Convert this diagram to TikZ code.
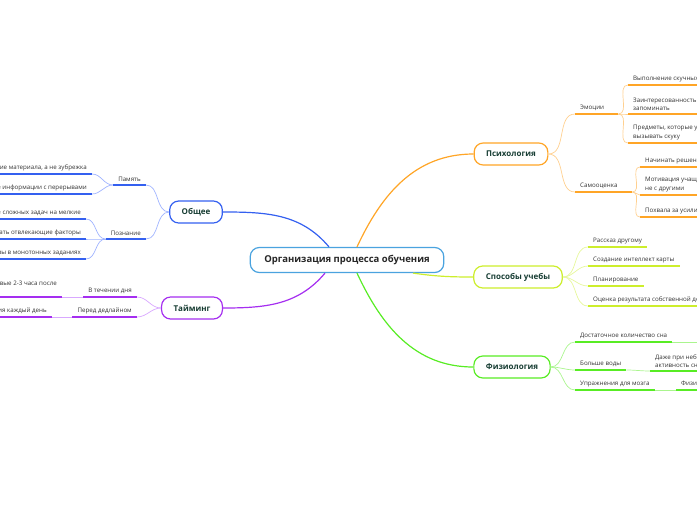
\documentclass[tikz,border=0pt]{standalone}
\usepackage{fontspec}
\setmainfont{Open Sans}
\definecolor{rootline}{HTML}{4AA3DF}
\definecolor{gencol}{HTML}{3460F0}
\definecolor{genlight}{HTML}{9FB3FF}
\definecolor{timcol}{HTML}{A52EF0}
\definecolor{timlight}{HTML}{D9A8FF}
\definecolor{psycol}{HTML}{FFA526}
\definecolor{psylight}{HTML}{FFD08F}
\definecolor{waycol}{HTML}{CDEE2C}
\definecolor{waylight}{HTML}{E6F79B}
\definecolor{phycol}{HTML}{58EC24}
\definecolor{phylight}{HTML}{AAF58E}
\definecolor{topictext}{HTML}{173D33}
\definecolor{leaftext}{HTML}{333333}
\tikzset{
  topic/.style={draw, fill=white, rounded corners=9pt, line width=1.2pt,
                minimum height=22pt, inner xsep=12pt, text=topictext,
                font=\bfseries\fontsize{8}{9}\selectfont},
  roottopic/.style={topic, draw=rootline, minimum height=25pt, inner xsep=14pt,
                text=black!85, font=\bfseries\fontsize{9.5}{11}\selectfont},
  leaf/.style={inner xsep=5pt, inner ysep=3pt, align=left, text=leaftext,
               font=\fontsize{6.2}{8.5}\selectfont},
  leafL/.style={leaf, anchor=south east},
  leafR/.style={leaf, anchor=south west},
  trunk/.style={line width=1.2pt},
  twig/.style={line width=0.7pt},
  uline/.style={line width=1.6pt},
}
\begin{document}
\begin{tikzpicture}[x=1pt, y=-1pt]
\useasboundingbox (0,0) rectangle (697,520);
\clip (0,0) rectangle (697,520);

% main topics
\node[roottopic] (root) at (347,260) {Организация процесса обучения};
\node[topic, draw=gencol] (gen) at (196,212) {Общее};
\node[topic, draw=timcol] (tim) at (192,308) {Тайминг};
\node[topic, draw=psycol] (psy) at (511,154) {Психология};
\node[topic, draw=waycol] (way) at (518,277) {Способы учебы};
\node[topic, draw=phycol] (phy) at (512,367) {Физиология};

\draw[trunk, gencol] ([xshift=-18pt]root.north) to[out=130, in=0] (gen.east);
\draw[trunk, timcol] ([xshift=-22pt]root.south) to[out=-130, in=0] (tim.east);
\draw[trunk, psycol] ([xshift=10pt]root.north) to[out=65, in=180] (psy.west);
\draw[trunk, waycol] ([xshift=66pt]root.south) to[out=-8, in=180] (way.west);
\draw[trunk, phycol] ([xshift=10pt]root.south) to[out=-65, in=180] (phy.west);

% Общее
\node[leafL] (mem) at (146,185) {Память};
\node[leafL, text width=30pt] (cog) at (146,239) {Познание};
\node[leafL] (mem1) at (92,174) {Понимание материала, а не зубрежка};
\node[leafL] (mem2) at (92,194) {Повторение информации с перерывами};
\node[leafL] (cog1) at (86,219) {Разделение сложных задач на мелкие};
\node[leafL] (cog2) at (86,239) {Исключать отвлекающие факторы};
\node[leafL] (cog3) at (86,259) {Перерывы в монотонных заданиях};
\foreach \a in {mem, cog}
  \draw[twig, genlight] (gen.west) to[out=180, in=0] (\a.south east);
\foreach \a/\b in {mem/mem1, mem/mem2, cog/cog1, cog/cog2, cog/cog3}
  \draw[twig, genlight] (\a.south west) to[out=180, in=0] (\b.south east);
\foreach \a in {mem, cog, mem1, mem2, cog1, cog2, cog3}
  \draw[uline, gencol] (\a.south east) -- (\a.south west);

% Тайминг
\node[leafL] (day) at (137,297) {В течении дня};
\node[leafL] (dead) at (137,317) {Перед дедлайном};
\node[leafL] (day1) at (62,297) {Первые 2-3 часа после\\сна};
\node[leafL] (dead1) at (52,317) {Занятия каждый день};
\foreach \a in {day, dead}
  \draw[twig, timlight] (tim.west) to[out=180, in=0] (\a.south east);
\foreach \a/\b in {day/day1, dead/dead1}
  \draw[twig, timlight] (\a.south west) -- (\b.south east);
\foreach \a in {day, dead, day1, dead1}
  \draw[uline, timcol] (\a.south east) -- (\a.south west);

% Психология
\node[leafR, text width=33pt] (emo) at (575,114) {Эмоции};
\node[leafR, text width=47pt] (self) at (575,192) {Самооценка};
\node[leafR] (emo1) at (628,85) {Выполнение скучных заданий};
\node[leafR] (emo2) at (628,114) {Заинтересованность помогает\\запоминать};
\node[leafR] (emo3) at (628,143) {Предметы, которые увлекают, не должны\\вызывать скуку};
\node[leafR] (self1) at (640,167) {Начинать решение с простых задач};
\node[leafR] (self2) at (640,195) {Мотивация учащегося сравнением\\не с другими};
\node[leafR] (self3) at (640,217) {Похвала за усилия};
\foreach \a in {emo, self}
  \draw[twig, psylight] (psy.east) to[out=0, in=180] (\a.south west);
\foreach \a/\b in {emo/emo1, emo/emo2, emo/emo3, self/self1, self/self2, self/self3}
  \draw[twig, psylight] (\a.south east) to[out=0, in=180] (\b.south west);
\foreach \a in {emo, self, emo1, emo2, emo3, self1, self2, self3}
  \draw[uline, psycol] (\a.south west) -- (\a.south east);

% Способы учебы
\node[leafR] (tell) at (588,247) {Рассказ другому};
\node[leafR] (mind) at (588,266) {Создание интеллект карты};
\node[leafR] (plan) at (588,286) {Планирование};
\node[leafR] (eval) at (588,306) {Оценка результата собственной деятельности};
\foreach \a in {tell, mind, plan, eval} {
  \draw[twig, waylight] (way.east) to[out=0, in=180] (\a.south west);
  \draw[uline, waycol] (\a.south west) -- (\a.south east);
}

% Физиология
\node[leafR] (sleep) at (575,342) {Достаточное количество сна};
\node[leafR] (water) at (575,370) {Больше воды};
\node[leafR] (brain) at (575,390) {Упражнения для мозга};
\node[leafR] (water1) at (650,371) {Даже при небольшом обезвоживании\\активность снижается};
\node[leafR] (brain1) at (676,390) {Физические упражнения};
\coordinate (sleepnext) at (700,342);
\foreach \a in {sleep, water, brain}
  \draw[twig, phylight] (phy.east) to[out=0, in=180] (\a.south west);
\draw[twig, phylight] (sleep.south east) -- (sleepnext);
\draw[twig, phylight] (water.south east) to[out=0, in=180] (water1.south west);
\draw[twig, phylight] (brain.south east) -- (brain1.south west);
\foreach \a in {sleep, water, brain, water1, brain1}
  \draw[uline, phycol] (\a.south west) -- (\a.south east);
\end{tikzpicture}
\end{document}
